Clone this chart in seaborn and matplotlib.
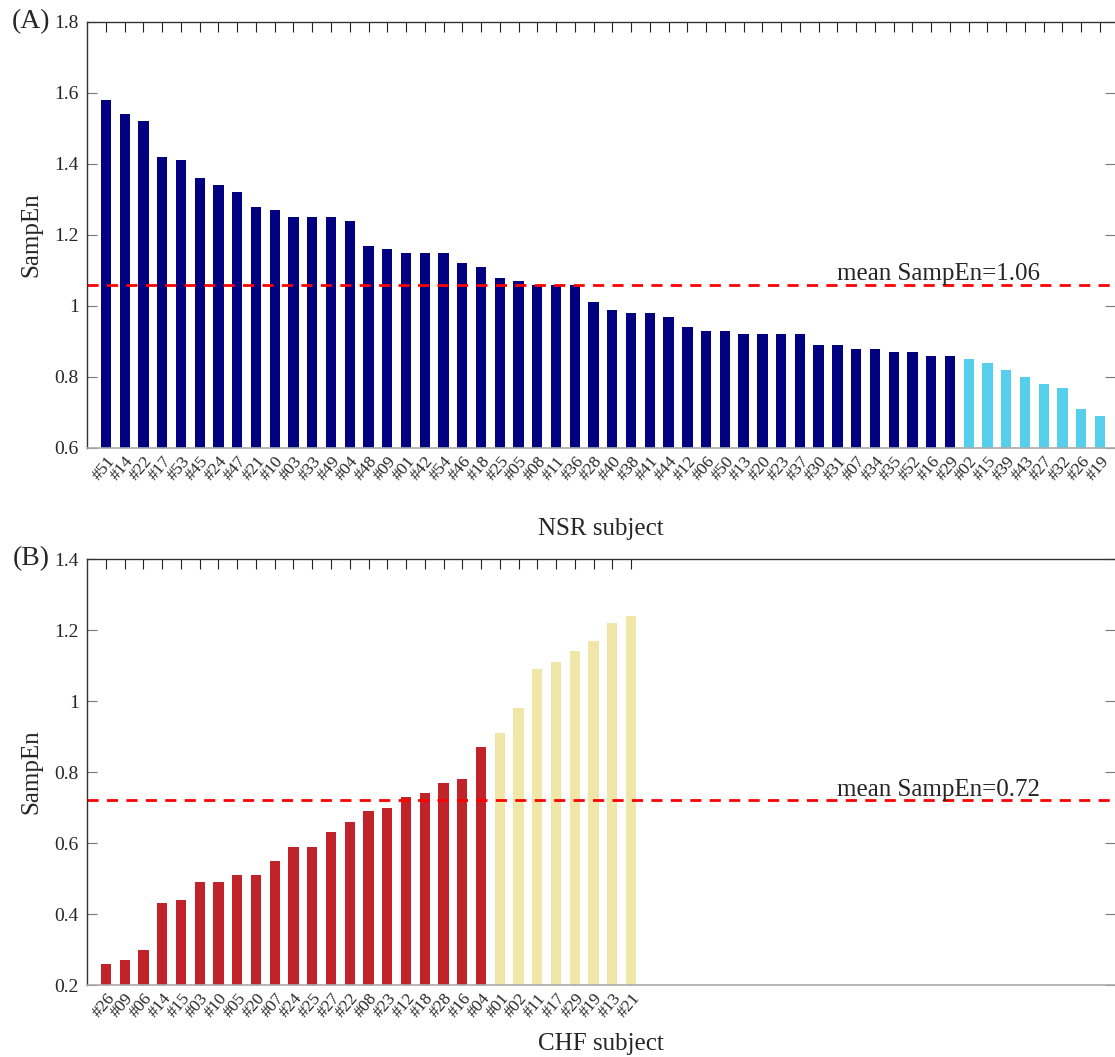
import matplotlib
matplotlib.use("Agg")
import matplotlib.pyplot as plt
import seaborn as sns
import pandas as pd

# panel A: NSR subjects
nsr_labels = ["#51", "#14", "#22", "#17", "#53", "#45", "#24", "#47", "#21", "#10",
              "#03", "#33", "#49", "#04", "#48", "#09", "#01", "#42", "#54", "#46",
              "#18", "#25", "#05", "#08", "#11", "#36", "#28", "#40", "#38", "#41",
              "#44", "#12", "#06", "#50", "#13", "#20", "#23", "#37", "#30", "#31",
              "#07", "#34", "#35", "#52", "#16", "#29", "#02", "#15", "#39", "#43",
              "#27", "#32", "#26", "#19"]
nsr_values = [1.58, 1.54, 1.52, 1.42, 1.41, 1.36, 1.34, 1.32, 1.28, 1.27,
              1.25, 1.25, 1.25, 1.24, 1.17, 1.16, 1.15, 1.15, 1.15, 1.12,
              1.11, 1.08, 1.07, 1.06, 1.06, 1.06, 1.01, 0.99, 0.98, 0.98,
              0.97, 0.94, 0.93, 0.93, 0.92, 0.92, 0.92, 0.92, 0.89, 0.89,
              0.88, 0.88, 0.87, 0.87, 0.86, 0.86, 0.85, 0.84, 0.82, 0.80,
              0.78, 0.77, 0.71, 0.69]
nsr_group = ["high"] * 46 + ["low"] * 8
nsr_mean = 1.06

# panel B: CHF subjects
chf_labels = ["#26", "#09", "#06", "#14", "#15", "#03", "#10", "#05", "#20", "#07",
              "#24", "#25", "#27", "#22", "#08", "#23", "#12", "#18", "#28", "#16",
              "#04", "#01", "#02", "#11", "#17", "#29", "#19", "#13", "#21"]
chf_values = [0.26, 0.27, 0.30, 0.43, 0.44, 0.49, 0.49, 0.51, 0.51, 0.55,
              0.59, 0.59, 0.63, 0.66, 0.69, 0.70, 0.73, 0.74, 0.77, 0.78,
              0.87, 0.91, 0.98, 1.09, 1.11, 1.14, 1.17, 1.22, 1.24]
chf_group = ["low"] * 21 + ["high"] * 8
chf_mean = 0.72

sns.set_style("ticks")
plt.rcParams['font.family'] = ['Liberation Serif', 'DejaVu Serif']


def draw_panel(ax, labels, values, group, palette, mean, ylim, yticks, yticklabels,
               xlabel, xlabel_y, tag):
    df = pd.DataFrame({"subject": labels, "sampen": values, "group": group})
    sns.barplot(data=df, x="subject", y="sampen", hue="group", order=labels,
                palette=palette, dodge=False, width=0.55, legend=False,
                saturation=1, linewidth=0, ax=ax)
    ax.set_xlim(-1.01, 53.8)
    ax.set_ylim(*ylim)
    ax.set_yticks(yticks)
    ax.set_yticklabels(yticklabels, fontsize=14)
    ax.axhline(mean, color="#ff0000", linestyle=(0, (4, 3)), linewidth=2)
    ax.text(39.0, mean + (ylim[1] - ylim[0]) * 0.01, f"mean SampEn={mean:.2f}",
            fontsize=18, va="baseline", ha="left")
    ax.set_xticks(range(len(labels)))
    ax.set_xticklabels(labels, rotation=50, ha="right", rotation_mode="anchor",
                       fontsize=12.5)
    ax.tick_params(axis="x", direction="in", length=7.5, width=0.8, color="#222222",
                   top=True, pad=4)
    ax.tick_params(axis="y", direction="in", length=7.5, width=0.8, color="#777777",
                   right=True, pad=6)
    ax.set_xlabel(xlabel, fontsize=18)
    ax.xaxis.set_label_coords(0.5, xlabel_y)
    ax.set_ylabel("SampEn", fontsize=18)
    ax.yaxis.set_label_coords(-0.043, 0.5)
    for side in ["left", "top"]:
        ax.spines[side].set_color("#333333")
        ax.spines[side].set_linewidth(1.0)
    ax.spines["bottom"].set_color("#aaaaaa")
    ax.spines["bottom"].set_linewidth(1.2)
    ax.spines["right"].set_visible(False)
    ax.text(-0.054, 1.0, tag, transform=ax.transAxes, fontsize=20, va="center",
            ha="center")


fig = plt.figure(figsize=(11.15, 10.57), dpi=100)
ax_a = fig.add_axes([0.078, 0.5762, 0.922, 0.4030])
ax_b = fig.add_axes([0.078, 0.0681, 0.922, 0.4030])

draw_panel(ax_a, nsr_labels, nsr_values, nsr_group,
           {"high": "#000080", "low": "#56cfed"}, nsr_mean,
           (0.6, 1.8), [0.6, 0.8, 1.0, 1.2, 1.4, 1.6, 1.8],
           ["0.6", "0.8", "1", "1.2", "1.4", "1.6", "1.8"], "NSR subject", -0.165, "(A)")
draw_panel(ax_b, chf_labels, chf_values, chf_group,
           {"low": "#c0232a", "high": "#efe6a7"}, chf_mean,
           (0.2, 1.4), [0.2, 0.4, 0.6, 0.8, 1.0, 1.2, 1.4],
           ["0.2", "0.4", "0.6", "0.8", "1", "1.2", "1.4"], "CHF subject", -0.112, "(B)")

fig.savefig("out.png", dpi=100)
